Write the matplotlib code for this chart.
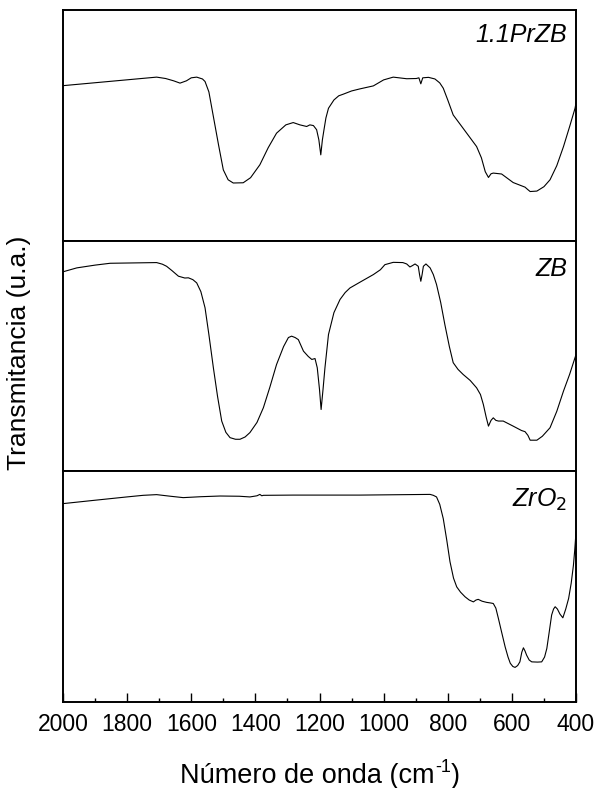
import matplotlib
matplotlib.use("Agg")
import matplotlib.pyplot as plt
from matplotlib.ticker import MultipleLocator

plt.rcParams['font.family'] = ['Liberation Sans', 'DejaVu Sans']

# ---- data (wavenumber cm-1, relative transmittance, 0 = panel bottom, 1 = panel top)
wn_przb = [2000, 1708, 1680, 1655, 1635, 1615, 1600, 1583, 1565, 1557, 1545, 1531, 1515,
           1500, 1485, 1469, 1438, 1415, 1386, 1360, 1334, 1305, 1282, 1261, 1240, 1230,
           1219, 1209, 1202, 1196, 1191, 1186, 1180, 1172, 1155, 1140, 1126, 1100, 1074,
           1032, 1000, 970, 928, 898, 890, 884, 878, 860, 840, 825, 814, 800, 783, 760,
           735, 710, 695, 683, 673, 665, 658, 632, 596, 559, 550, 543, 522, 500, 481,
           460, 439, 420, 403, 400]
t_przb = [0.672, 0.709, 0.703, 0.693, 0.683, 0.693, 0.706, 0.709, 0.701, 0.690, 0.645,
          0.538, 0.416, 0.307, 0.264, 0.250, 0.251, 0.273, 0.329, 0.403, 0.466, 0.502,
          0.512, 0.502, 0.495, 0.502, 0.499, 0.481, 0.437, 0.372, 0.437, 0.481, 0.532,
          0.574, 0.610, 0.628, 0.635, 0.649, 0.658, 0.671, 0.697, 0.709, 0.702, 0.703,
          0.706, 0.680, 0.706, 0.708, 0.701, 0.684, 0.661, 0.610, 0.545, 0.502, 0.455,
          0.408, 0.359, 0.299, 0.274, 0.290, 0.293, 0.289, 0.252, 0.232, 0.221, 0.213,
          0.215, 0.234, 0.264, 0.325, 0.408, 0.494, 0.574, 0.597]

wn_zb = [2000, 1957, 1900, 1853, 1708, 1690, 1677, 1660, 1640, 1620, 1609, 1595, 1583,
         1570, 1557, 1545, 1531, 1518, 1505, 1492, 1479, 1462, 1448, 1432, 1417, 1395,
         1375, 1355, 1334, 1312, 1297, 1287, 1276, 1266, 1250, 1235, 1224, 1214, 1207,
         1200, 1195, 1189, 1183, 1172, 1155, 1136, 1120, 1105, 1070, 1032, 1010, 996,
         970, 940, 928, 918, 910, 902, 892, 888, 884, 880, 876, 868, 855, 845, 835, 822,
         809, 795, 783, 768, 752, 730, 710, 698, 689, 680, 673, 665, 658, 650, 642, 627,
         596, 570, 559, 550, 543, 522, 505, 481, 460, 439, 420, 400]
t_zb = [0.865, 0.882, 0.894, 0.902, 0.905, 0.898, 0.889, 0.870, 0.846, 0.838, 0.839,
        0.831, 0.817, 0.779, 0.709, 0.593, 0.449, 0.325, 0.218, 0.169, 0.146, 0.139,
        0.139, 0.149, 0.168, 0.212, 0.276, 0.364, 0.463, 0.541, 0.580, 0.586, 0.580,
        0.571, 0.521, 0.498, 0.485, 0.489, 0.449, 0.355, 0.268, 0.355, 0.449, 0.593,
        0.688, 0.745, 0.775, 0.795, 0.823, 0.853, 0.874, 0.896, 0.906, 0.905, 0.899,
        0.886, 0.892, 0.899, 0.889, 0.853, 0.824, 0.853, 0.889, 0.899, 0.882, 0.853,
        0.810, 0.732, 0.636, 0.541, 0.471, 0.442, 0.420, 0.394, 0.362, 0.333, 0.290,
        0.234, 0.196, 0.221, 0.232, 0.221, 0.218, 0.218, 0.196, 0.177, 0.172, 0.156,
        0.135, 0.135, 0.152, 0.189, 0.260, 0.348, 0.420, 0.506]

wn_zro2 = [2000, 1905, 1801, 1750, 1708, 1665, 1625, 1570, 1510, 1450, 1417, 1395, 1386,
           1380, 1375, 1282, 1074, 855, 845, 835, 825, 814, 803, 793, 782, 772, 760,
           746, 733, 720, 712, 705, 693, 679, 665, 658, 650, 642, 632, 621, 612, 605,
           597, 590, 582, 575, 569, 564, 559, 554, 546, 538, 520, 507, 498, 491, 484,
           476, 470, 465, 458, 450, 441, 432, 423, 415, 408, 404, 400]
t_zro2 = [0.860, 0.874, 0.889, 0.896, 0.899, 0.892, 0.886, 0.890, 0.893, 0.892, 0.889,
          0.894, 0.900, 0.894, 0.896, 0.897, 0.897, 0.900, 0.896, 0.889, 0.857, 0.795,
          0.701, 0.608, 0.537, 0.499, 0.476, 0.456, 0.442, 0.434, 0.442, 0.445, 0.437,
          0.432, 0.429, 0.427, 0.407, 0.362, 0.303, 0.239, 0.195, 0.168, 0.154, 0.150,
          0.158, 0.174, 0.216, 0.235, 0.221, 0.203, 0.182, 0.174, 0.173, 0.174, 0.195,
          0.232, 0.299, 0.377, 0.403, 0.413, 0.403, 0.381, 0.365, 0.403, 0.449, 0.515,
          0.593, 0.658, 0.737]

labels = ['1.1PrZB', 'ZB', 'ZrO$_2$']
xticks = [2000, 1800, 1600, 1400, 1200, 1000, 800, 600, 400]
series = [(wn_przb, t_przb), (wn_zb, t_zb), (wn_zro2, t_zro2)]

W, H = 598, 788
fig = plt.figure(figsize=(W / 100, H / 100), dpi=100)
left, right = 63 / W, 576 / W
top_px, bot_px = 10, 702
h_px = (bot_px - top_px) / 3
axes = []
for i in range(3):
    y0 = 1 - (top_px + (i + 1) * h_px) / H
    ax = fig.add_axes([left, y0, right - left, h_px / H])
    axes.append(ax)

label_y = [0.944, 0.93, 0.935]
for i, (ax, (wn, t), lab) in enumerate(zip(axes, series, labels)):
    ax.plot(wn, t, color='black', lw=0.8)
    ax.set_xlim(2000, 400)
    ax.set_ylim(0, 1)
    ax.set_yticks([])
    for s in ax.spines.values():
        s.set_linewidth(1.4)
    ax.text(0.983, label_y[i], lab, transform=ax.transAxes, ha='right', va='top',
            fontsize=18, style='italic')
    if i < 2:
        ax.set_xticks([])
    else:
        ax.set_xticks(xticks)
        ax.set_xticklabels([str(v) for v in xticks])
        ax.xaxis.set_minor_locator(MultipleLocator(100))
        ax.tick_params(axis='x', which='major', direction='in', length=6.5, width=1,
                       labelsize=16.5, pad=8)
        ax.tick_params(axis='x', which='minor', direction='in', length=3, width=1)

# y label
fig.text(19 / W, 1 - 353 / H, 'Transmitancia (u.a.)', rotation=90,
         ha='center', va='center', fontsize=19)

# x label built from pieces so the superscript uses a plain hyphen
fig.canvas.draw()
r = fig.canvas.get_renderer()
base_y = 1 - 783 / H
p1 = fig.text(0, base_y, 'Número de onda (cm', fontsize=19.5, va='baseline', ha='left')
p2 = fig.text(0, base_y, '-1', fontsize=13, va='baseline', ha='left')
p3 = fig.text(0, base_y, ')', fontsize=19.5, va='baseline', ha='left')
w1 = p1.get_window_extent(r).width
w2 = p2.get_window_extent(r).width
w3 = p3.get_window_extent(r).width
total = w1 + w2 + w3
x0 = 320 - total / 2
p1.set_x(x0 / W)
p2.set_position(((x0 + w1) / W, base_y + 11 / H))
p3.set_x((x0 + w1 + w2 + 0.5) / W)

fig.savefig('out.png', dpi=100)
